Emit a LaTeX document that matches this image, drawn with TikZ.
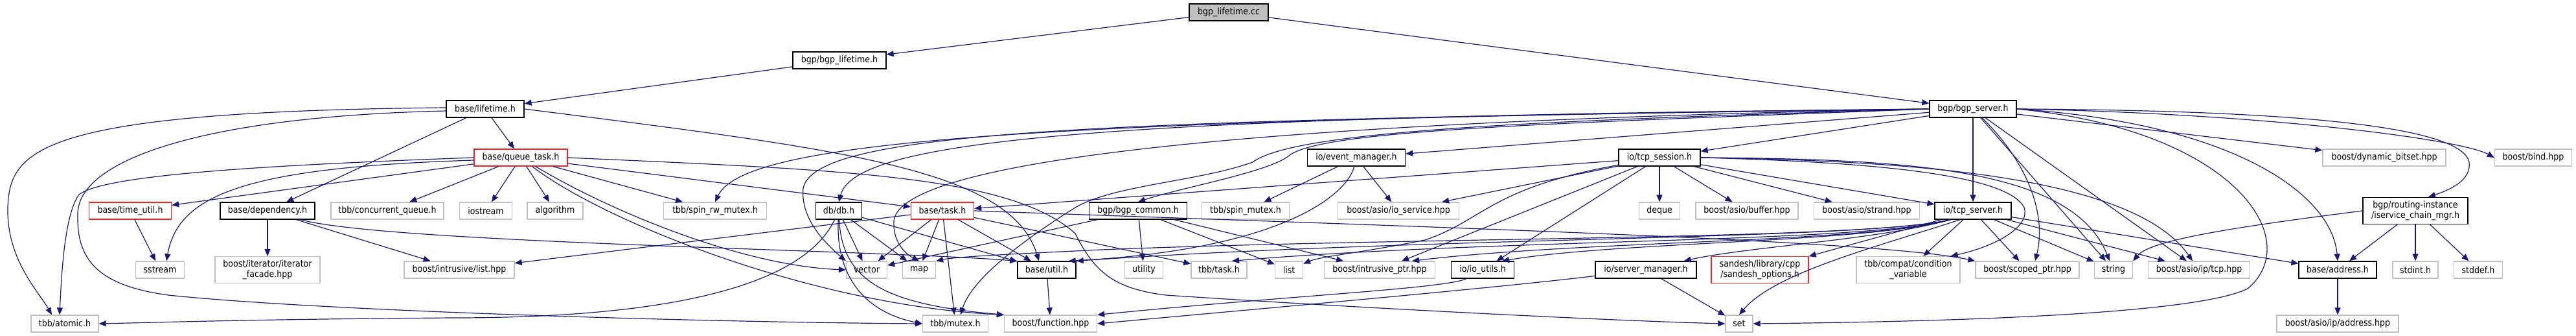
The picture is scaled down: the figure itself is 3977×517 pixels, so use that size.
\documentclass[tikz,border=0pt]{standalone}
\usepackage{fontspec}
\setmainfont{DejaVu Sans}[FakeStretch=0.9]
\usetikzlibrary{arrows.meta}
\definecolor{edgeblue}{HTML}{191970}
\definecolor{boxgray}{HTML}{BFBFBF}
\definecolor{cutred}{HTML}{FF2020}
\newcommand\hdrfont{\fontsize{14}{15.5}\selectfont}
\tikzset{
  docbox/.style={draw=black, fill=white, line width=1.3pt, inner sep=1pt, minimum height=26, align=center, font=\hdrfont},
  sysbox/.style={docbox, draw=boxgray},
  cutbox/.style={docbox, draw=cutred},
  rootbox/.style={docbox, fill=boxgray},
  inc/.style={edgeblue, line width=1.2pt, -{Triangle[length=11pt,width=9pt]}},
}
\begin{document}
\begin{tikzpicture}[x=1pt, y=-1pt]
  \useasboundingbox (0,0) rectangle (3977,517);
  \node[rootbox, minimum width=122] (cc) at (1897,19) {bgp\_lifetime.cc};
  % headers of the project
  \foreach \nm/\x/\y/\w/\txt in {bgplt/1296/93/144/{bgp/bgp\_lifetime.h}, lifetime/749/168/120/{base/lifetime.h},
      bgpsrv/3046/168/134/{bgp/bgp\_server.h}, evmgr/2094/243/151/{io/event\_manager.h}, tcpsess/2562/243/126/{io/tcp\_session.h},
      dep/413/325/146/{base/dependency.h}, db/1295/325/71/{db/db.h}, bgpcommon/1757/325/151/{bgp/bgp\_common.h},
      tcpsrv/3046/325/118/{io/tcp\_server.h}, util/1616/416/90/{base/util.h}, ioutils/2289/416/97/{io/io\_utils.h},
      srvmgr/2541/416/156/{io/server\_manager.h}, address/3609/416/120/{base/address.h}}
    \node[docbox, minimum width=\w] (\nm) at (\x,\y) {\txt};
  \node[docbox, minimum width=162, minimum height=41] (scmgr) at (3729,325) {bgp/routing-instance\\/iservice\_chain\_mgr.h};
  % headers whose graph is cut
  \foreach \nm/\x/\y/\w/\txt in {qtask/804/243/144/{base/queue\_task.h}, timeutil/201/325/127/{base/time\_util.h},
      task/1455/325/97/{base/task.h}}
    \node[cutbox, minimum width=\w] (\nm) at (\x,\y) {\txt};
  \node[cutbox, minimum width=150, minimum height=41] (sandesh) at (2717,416) {sandesh/library/cpp\\/sandesh\_options.h};
  % system and library headers
  \foreach \nm/\x/\y/\w/\txt in {dynbits/3681/243/190/{boost/dynamic\_bitset.hpp}, bind/3911/243/119/{boost/bind.hpp},
      cqueue/598/325/174/{tbb/concurrent\_queue.h}, iostream/750/325/81/iostream, algorithm/857/325/86/algorithm,
      spinrw/1104/325/159/{tbb/spin\_rw\_mutex.h}, spinmtx/1923/325/135/{tbb/spin\_mutex.h},
      ioservice/2159/325/187/{boost/asio/io\_service.hpp}, deque/2562/325/63/deque,
      buffer/2697/325/158/{boost/asio/buffer.hpp}, strand/2882/325/163/{boost/asio/strand.hpp},
      sstream/247/416/75/sstream, intrlist/709/416/170/{boost/intrusive/list.hpp}, vector/1338/416/63/vector,
      map/1419/416/51/map, utility/1766/416/59/utility, tbbtask/1882/416/86/{tbb/task.h}, list/1990/416/43/list,
      intrptr/2130/416/171/{boost/intrusive\_ptr.hpp}, scoped/3130/416/160/{boost/scoped\_ptr.hpp},
      string/3263/416/59/string, tcphpp/3395/416/157/{boost/asio/ip/tcp.hpp}, stdint/3729/416/70/{stdint.h},
      stddef/3826/416/75/{stddef.h}, atomic/100/499/104/{tbb/atomic.h}, mutex/1475/499/101/{tbb/mutex.h},
      function/1622/499/143/{boost/function.hpp}, set/2685/499/42/set, addrhpp/3609/499/188/{boost/asio/ip/address.hpp}}
    \node[sysbox, minimum width=\w] (\nm) at (\x,\y) {\txt};
  \node[sysbox, minimum width=162, minimum height=41] (iterfac) at (413,416) {boost/iterator/iterator\\\_facade.hpp};
  \node[sysbox, minimum width=160, minimum height=41] (condvar) at (2946,416) {tbb/compat/condition\\\_variable};

  % straight includes
  \foreach \src/\dst in {cc/bgplt, cc/bgpsrv, bgplt/lifetime, lifetime/qtask, lifetime/dep,
      qtask/timeutil, qtask/cqueue, qtask/iostream, qtask/algorithm, qtask/spinrw, qtask/task,
      timeutil/sstream, dep/iterfac, dep/intrlist, db/vector, db/map, db/util,
      task/intrlist, task/vector, task/map, task/mutex, task/util, task/tbbtask, util/function,
      bgpcommon/vector, bgpcommon/utility, bgpcommon/list, bgpcommon/intrptr, evmgr/spinmtx, evmgr/ioservice,
      tcpsess/ioservice, tcpsess/deque, tcpsess/buffer, tcpsess/strand, tcpsess/tcpsrv, tcpsess/intrptr,
      tcpsess/ioutils, tcpsess/task, tcpsrv/sandesh, tcpsrv/condvar, tcpsrv/scoped, tcpsrv/string,
      tcpsrv/tcphpp, tcpsrv/address, srvmgr/set, bgpsrv/evmgr, bgpsrv/tcpsess, bgpsrv/tcpsrv,
      bgpsrv/dynbits, bgpsrv/tcphpp, bgpsrv/string, scmgr/address, scmgr/stdint, scmgr/stddef, address/addrhpp}
    \draw[inc] (\src) -- (\dst);

  % bent includes, left part
  \draw[inc] ([yshift=2]lifetime.west) .. controls (60,172) and (15,230) .. (12,320) .. controls (10,400) and (60,450) .. ([xshift=-20]atomic.north);
  \draw[inc] ([yshift=-3]lifetime.west) .. controls (300,180) and (120,250) .. (120,330) .. controls (118,400) and (150,440) .. (260,455) .. controls (500,480) and (1100,497) .. (mutex.west);
  \draw[inc] (lifetime.east) .. controls (1300,230) and (1560,260) .. ([xshift=-12]util.north);
  \draw[inc] (qtask.west) .. controls (400,255) and (160,270) .. (122,300) .. controls (100,330) and (95,420) .. ([xshift=-8]atomic.north);
  \draw[inc] ([yshift=-4]qtask.west) .. controls (380,258) and (275,300) .. ([xshift=10]sstream.north);
  \draw[inc] (qtask) .. controls (950,330) and (1150,410) .. (vector.west);
  \draw[inc] (qtask) .. controls (930,340) and (1250,470) .. (function.north west);
  \draw[inc] (qtask.east) .. controls (1300,262) and (1560,270) .. (1660,360) .. controls (1690,420) and (1720,445) .. (1800,455) .. controls (2100,475) and (2500,495) .. (set.west);
  \draw[inc] (dep) .. controls (600,375) and (1350,385) .. (util.north west);
  \draw[inc] (db) .. controls (1250,420) and (1100,490) .. (700,490) .. controls (400,492) and (250,497) .. (atomic.east);
  \draw[inc] (db) .. controls (1290,420) and (1330,480) .. (mutex.west);
  \draw[inc] (db) .. controls (1300,440) and (1380,470) .. (function.north west);
  \draw[inc] (task.east) .. controls (2200,350) and (2900,370) .. (scoped.north west);
  \draw[inc] (evmgr) .. controls (2080,300) and (1980,385) .. ([xshift=-12]util.north east);
  % bent includes, right part
  \draw[inc] (tcpsess) .. controls (2300,290) and (2290,340) .. (2200,370) .. controls (2100,390) and (2040,395) .. (list);
  \draw[inc] (tcpsess.east) .. controls (2900,250) and (3100,270) .. (3125,320) .. controls (3135,350) and (3080,380) .. ([xshift=-15]condvar.north east);
  \draw[inc] (tcpsess.east) .. controls (2950,245) and (3200,260) .. ([xshift=-6]string.north);
  \draw[inc] (tcpsess.east) .. controls (3000,248) and (3300,280) .. ([xshift=-10]tcphpp.north);
  \draw[inc] ([xshift=-35]tcpsrv.south) .. controls (2900,370) and (2700,380) .. ([xshift=-20]srvmgr.north east);
  \draw[inc] ([xshift=-35]tcpsrv.south) .. controls (2880,375) and (2500,372) .. ([xshift=30]ioutils.north);
  \draw[inc] ([xshift=-35]tcpsrv.south) .. controls (2880,375) and (2450,370) .. ([xshift=50]intrptr.north);
  \draw[inc] ([xshift=-35]tcpsrv.south) .. controls (2880,375) and (2300,368) .. ([xshift=20]tbbtask.north);
  \draw[inc] ([xshift=-35]tcpsrv.south) .. controls (2880,370) and (2200,365) .. (util.north east);
  \draw[inc] ([xshift=-35]tcpsrv.south) .. controls (2880,370) and (2200,365) .. (1700,385) .. controls (1600,390) and (1480,395) .. (map.north east);
  \draw[inc] ([xshift=-20]tcpsrv.south) .. controls (2900,380) and (2740,420) .. (set.north);
  \draw[inc] ([xshift=-25]ioutils.south) .. controls (2230,445) and (2000,455) .. (function.north east);
  \draw[inc] (srvmgr) .. controls (2300,445) and (1900,480) .. (function.east);
  \draw[inc] (bgpsrv.west) .. controls (1700,180) and (1320,215) .. (db.north);
  \draw[inc] (bgpsrv.west) .. controls (1600,185) and (1150,215) .. (spinrw.north);
  \draw[inc] (bgpsrv.west) .. controls (1700,185) and (1260,200) .. (1240,290) .. controls (1235,340) and (1280,380) .. (vector.north west);
  \draw[inc] (bgpsrv.west) .. controls (1800,190) and (1390,260) .. (1380,340) .. controls (1378,370) and (1395,390) .. (map.north);
  \draw[inc] (bgpsrv.west) .. controls (2400,190) and (2040,200) .. (1990,240) .. controls (1960,265) and (1820,290) .. (bgpcommon.north);
  \draw[inc] (bgpsrv.west) .. controls (2400,185) and (2000,200) .. (1934,250) .. controls (1850,280) and (1720,285) .. (1660,320) .. controls (1580,370) and (1500,430) .. ([xshift=8]mutex.north);
  \draw[inc] (bgpsrv) .. controls (3130,250) and (3160,330) .. ([xshift=12]scoped.north);
  \draw[inc] (bgpsrv.east) .. controls (3450,190) and (3600,300) .. (address.north);
  \draw[inc] (bgpsrv.east) .. controls (3500,175) and (3800,215) .. (bind.west);
  \draw[inc] (bgpsrv.east) .. controls (3500,170) and (3800,190) .. (3812,250) .. controls (3815,275) and (3790,290) .. ([xshift=20]scmgr.north);
  \draw[inc] (bgpsrv.east) .. controls (3450,200) and (3560,370) .. (3470,445) .. controls (3380,490) and (2900,497) .. (set.east);
  \draw[inc] (scmgr.west) .. controls (3450,350) and (3320,370) .. (string.north east);
\end{tikzpicture}
\end{document}
